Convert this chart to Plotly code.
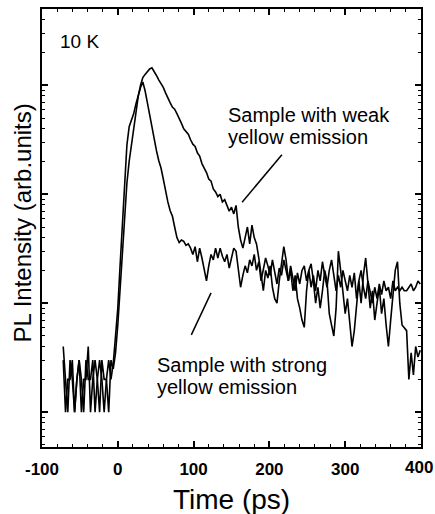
import plotly.graph_objects as go

# Sampling grid (ps)
time_ps = list(range(-72, 400, 3))

# Sample with strong yellow emission (fast decay)
strong_baseline = [4, 2, 1, 3, 2, 1, 2, 3, 2, 1, 3, 2, 2, 3, 1, 2, 3, 2, 1, 2, 3, 2]
strong_signal = [
    2.8, 5, 9, 22, 56, 141, 282, 417, 479, 550,
    676, 832, 955, 1070, 891, 692, 525, 398, 316, 251,
    204, 174, 138, 105, 85, 71, 63, 50, 40, 36,
    38, 37, 34, 35, 32, 28, 33, 24, 32, 26,
    20, 16, 22, 28, 25, 32, 26, 32, 27, 24,
    28, 21, 26, 32, 30, 20, 14, 18, 22, 19,
    25, 22, 28, 20, 24, 16, 20, 26, 22, 18,
    25, 20, 15, 21, 18, 25, 20, 16, 22, 17,
    13, 19, 15, 20, 22, 16, 20, 14, 18, 13,
    20, 16, 24, 18, 14, 20, 25, 18, 13, 18,
    14, 20, 16, 13, 18, 14, 19, 11, 16, 20,
    14, 11, 16, 13, 10, 14, 11, 15, 12, 16,
    13, 14, 11, 16, 13, 14, 13, 14, 13, 13,
    14, 15, 13, 14, 16, 15,
]

# Sample with weak yellow emission (slow decay)
weak_baseline = [3, 1, 2, 2, 3, 1, 2, 3, 1, 2, 2, 4, 1, 2, 3, 2, 1, 3, 2, 2, 1, 3]
weak_signal = [
    2.5, 3.5, 6.3, 14, 32, 71, 126, 200, 282, 417,
    603, 794, 1000, 1175, 1259, 1349, 1413, 1445, 1349, 1230,
    1122, 1047, 955, 851, 759, 692, 631, 603, 550, 501,
    447, 398, 372, 355, 316, 288, 275, 240, 224, 191,
    174, 158, 138, 132, 112, 105, 95, 100, 85, 89,
    79, 70, 76, 66, 79, 50, 38, 32, 40, 50,
    35, 52, 40, 35, 26, 18, 13, 20, 17, 22,
    14, 11, 10, 16, 24, 33, 25, 16, 20, 13,
    18, 11, 9, 7, 6, 13, 20, 23, 16, 10,
    14, 9, 13, 20, 16, 8, 6.3, 5, 9, 30,
    20, 13, 8, 11, 6.3, 4, 5.6, 9, 16, 10,
    18, 26, 16, 9, 13, 7, 10, 14, 8, 11,
    6.3, 4, 7, 11, 20, 24, 10, 6.3, 6, 5.6,
    2, 3.5, 2.2, 4, 3.2, 3.7,
]

strong_pl = strong_baseline + strong_signal
weak_pl = weak_baseline + weak_signal

x_tick_vals = [-100, 0, 100, 200, 300, 400]
x_tick_text = ["-100", "0", "100", "200", "300", ""]
last_tick_label = "400"

FONT = "Liberation Sans, Arial, Helvetica, sans-serif"

fig = go.Figure()
fig.add_trace(go.Scatter(x=time_ps, y=strong_pl, mode="lines",
                         line=dict(color="black", width=1.6), name="strong"))
fig.add_trace(go.Scatter(x=time_ps, y=weak_pl, mode="lines",
                         line=dict(color="black", width=1.6), name="weak"))

fig.update_layout(
    width=435, height=514,
    margin=dict(l=42, r=14, t=9, b=67),
    paper_bgcolor="white", plot_bgcolor="white",
    showlegend=False,
    font=dict(family=FONT, color="black"),
)

fig.update_xaxes(
    range=[-100, 400], tickvals=x_tick_vals, ticktext=x_tick_text,
    ticks="inside", ticklen=6, tickwidth=1.5, tickcolor="black",
    minor=dict(ticks="inside", ticklen=3, tickwidth=1, dtick=20, tick0=0, tickcolor="black", showgrid=False),
    showline=True, linewidth=2, linecolor="black", mirror="ticks",
    showgrid=False, zeroline=False,
    tickfont=dict(size=17, family=FONT, color="black", weight="bold"),
    ticklabelstandoff=6, automargin=False,
)

fig.update_yaxes(
    type="log", range=[-0.32, 3.70], dtick=1, tick0=0,
    ticks="inside", ticklen=6, tickwidth=1.5, tickcolor="black",
    minor=dict(ticks="inside", ticklen=3, tickwidth=1, dtick="D1", tickcolor="black", showgrid=False),
    showticklabels=False,
    showline=True, linewidth=2, linecolor="black", mirror="ticks",
    showgrid=False, zeroline=False, automargin=False,
)

def note(text, x, y, size, xanchor="left", angle=0, weight="normal"):
    fig.add_annotation(text=text, x=x, y=y, xref="paper", yref="paper",
                       xanchor=xanchor, yanchor="middle", showarrow=False,
                       textangle=angle,
                       font=dict(size=size, family=FONT, color="black", weight=weight))

note("10 K", 0.042, 0.925, 19)
note("Sample with weak", 0.486, 0.758, 20)
note("yellow emission", 0.486, 0.708, 20)
note("Sample with strong", 0.297, 0.187, 20)
note("yellow emission", 0.297, 0.137, 20)
note("PL Intensity (arb.units)", -0.052, 0.511, 24, xanchor="center", angle=-90)
note("Time (ps)", 0.501, -0.121, 28, xanchor="center")
# last x tick label, kept inside the page edge as in the reference
fig.add_annotation(text=last_tick_label, x=1.036, y=-0.046, xref="paper", yref="paper",
                   xanchor="right", yanchor="middle", showarrow=False,
                   font=dict(size=17, family=FONT, color="black", weight="bold"))

fig.add_shape(type="line", xref="paper", yref="paper", x0=0.633, y0=0.667, x1=0.528, y1=0.559,
              line=dict(color="black", width=1.5))
fig.add_shape(type="line", xref="paper", yref="paper", x0=0.446, y0=0.352, x1=0.394, y1=0.256,
              line=dict(color="black", width=1.5))

fig.write_html("out.html")
